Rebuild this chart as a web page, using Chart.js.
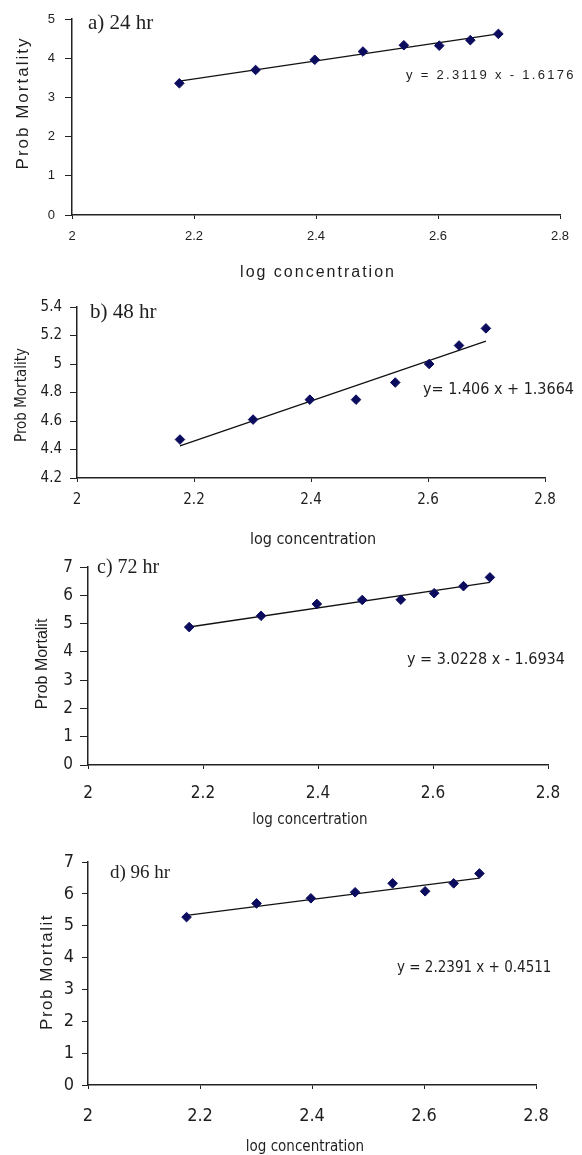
<!DOCTYPE html>
<html>
<head>
<meta charset="utf-8">
<script src="https://cdn.jsdelivr.net/npm/chart.js@4/dist/chart.umd.min.js"></script>
<style>
  body { margin: 0; background: #fff; width: 582px; height: 1155px; position: relative; overflow: hidden; }
  canvas { position: absolute; left: 0; }
</style>
</head>
<body>
<canvas id="pa" width="582" height="290" style="top:0px"></canvas>
<canvas id="pb" width="582" height="260" style="top:290px"></canvas>
<canvas id="pc" width="582" height="290" style="top:550px"></canvas>
<canvas id="pd" width="582" height="315" style="top:840px"></canvas>
<script>
// log concentration of the 8 test doses
const logConc = [2.176, 2.301, 2.398, 2.477, 2.544, 2.602, 2.653, 2.699];

// probit mortality
const prob24 = [3.36, 3.70, 3.96, 4.17, 4.33, 4.32, 4.46, 4.62];
const prob48 = [4.47, 4.61, 4.75, 4.75, 4.87, 5.00, 5.13, 5.25];
const prob72 = [4.88, 5.28, 5.70, 5.84, 5.85, 6.08, 6.33, 6.64];
const prob96 = [5.27, 5.70, 5.86, 6.05, 6.33, 6.08, 6.33, 6.64];

// trend line end points (from the printed equations)
const fitX = [2.176, 2.699];
const fit24 = [3.413, 4.622];
const fit48 = [4.426, 5.161];
const fit72 = [4.884, 6.465];
const fit96 = [5.323, 6.494];

const xTicks = [2, 2.2, 2.4, 2.6, 2.8];
const yTicks24 = [0, 1, 2, 3, 4, 5];
const yTicks48 = [4.2, 4.4, 4.6, 4.8, 5, 5.2, 5.4];
const yTicks72 = [0, 1, 2, 3, 4, 5, 6, 7];
const yTicks96 = [0, 1, 2, 3, 4, 5, 6, 7];

const SANS = '"Liberation Sans", Arial, sans-serif';
const NARROW = '"Liberation Sans Narrow", "DejaVu Sans Condensed", "Liberation Sans", sans-serif';
const SERIF = '"Liberation Serif", "Times New Roman", serif';

function pairs(xs, ys) {
  return xs.map((x, i) => ({ x: x, y: ys[i] }));
}

const textPlugin = {
  id: 'texts',
  afterDraw(chart, args, opts) {
    const ctx = chart.ctx;
    (opts.items || []).forEach(t => {
      ctx.save();
      ctx.font = t.font;
      ctx.fillStyle = t.color || '#1e1e1e';
      ctx.letterSpacing = (t.ls || 0) + 'px';
      ctx.textAlign = t.align || 'left';
      ctx.textBaseline = 'middle';
      ctx.translate(t.x, t.y);
      if (t.rot) ctx.rotate(-Math.PI / 2);
      ctx.fillText(t.text, 0, 0);
      ctx.restore();
    });
  }
};

const panels = [
  {
    id: 'pa', top: 0, h: 290, area: [72, 19, 560, 215],
    points: pairs(logConc, prob24), fit: pairs(fitX, fit24),
    yMin: 0, yMax: 5, yTicks: yTicks24,
    tickFont: { family: SANS, size: 13 }, xPad: 10, yPad: 10, yTickLen: 7,
    texts: [
      { text: 'a) 24 hr', x: 88, y: 23, font: '21px ' + SERIF },
      { text: 'y = 2.3119 x - 1.6176', x: 406, y: 75, font: '13px ' + SANS, ls: 2.3 },
      { text: 'log concentration', x: 318, y: 273, font: '16px ' + SANS, ls: 2, align: 'center' },
      { text: 'Prob Mortality', x: 23, y: 103, font: '17px ' + SANS, ls: 2, align: 'center', rot: true }
    ]
  },
  {
    id: 'pb', top: 290, h: 260, area: [77, 305, 545, 478],
    points: pairs(logConc, prob48), fit: pairs(fitX, fit48),
    yMin: 4.2, yMax: 5.4, yTicks: yTicks48,
    tickFont: { family: NARROW, size: 15 }, xPad: 9, yPad: 8, yTickLen: 7,
    texts: [
      { text: 'b) 48 hr', x: 90, y: 22, font: '21px ' + SERIF },
      { text: 'y= 1.406 x + 1.3664', x: 423, y: 100, font: '16px ' + NARROW },
      { text: 'log concentration', x: 313, y: 250, font: '16px ' + NARROW, align: 'center' },
      { text: 'Prob Mortality', x: 22, y: 105, font: '15px ' + NARROW, align: 'center', rot: true }
    ]
  },
  {
    id: 'pc', top: 550, h: 290, area: [88, 565, 548, 765],
    points: pairs(logConc, prob72), fit: pairs(fitX, fit72),
    yMin: 0, yMax: 7, yTicks: yTicks72,
    tickFont: { family: NARROW, size: 17 }, xPad: 14, yPad: 7, yTickLen: 8,
    texts: [
      { text: 'c) 72 hr', x: 97, y: 18, font: '20px ' + SERIF },
      { text: 'y = 3.0228 x - 1.6934', x: 407, y: 110, font: '16px ' + NARROW },
      { text: 'log concertration', x: 310, y: 270, font: '15px ' + NARROW, align: 'center' },
      { text: 'Prob Mortalit', x: 43, y: 114, font: '16px ' + SANS, align: 'center', rot: true }
    ]
  },
  {
    id: 'pd', top: 840, h: 315, area: [88, 862, 536, 1085],
    points: pairs(logConc, prob96), fit: pairs(fitX, fit96),
    yMin: 0, yMax: 7, yTicks: yTicks96,
    tickFont: { family: NARROW, size: 18 }, xPad: 17, yPad: 8, yTickLen: 6,
    texts: [
      { text: 'd) 96 hr', x: 110, y: 33, font: '19px ' + SERIF },
      { text: 'y = 2.2391 x + 0.4511', x: 397, y: 128, font: '15px ' + NARROW },
      { text: 'log concentration', x: 305, y: 307, font: '15px ' + NARROW, align: 'center' },
      { text: 'Prob Mortalit', x: 47, y: 132, font: '17px ' + SANS, ls: 1.5, align: 'center', rot: true }
    ]
  }
];

function makeChart(p) {
  const [l, t, r, b] = p.area;
  new Chart(document.getElementById(p.id), {
    type: 'scatter',
    data: {
      datasets: [
        {
          data: p.fit, showLine: true, borderColor: '#111', borderWidth: 1.3,
          pointRadius: 0, order: 2
        },
        {
          data: p.points, pointStyle: 'rectRot', pointRadius: 4.8,
          backgroundColor: '#0c0c5e', borderColor: '#0c0c5e', borderWidth: 1, order: 1
        }
      ]
    },
    options: {
      responsive: false,
      animation: false,
      devicePixelRatio: 1,
      layout: { autoPadding: false, padding: { left: 0, top: t - p.top, right: 582 - r, bottom: 0 } },
      plugins: {
        legend: { display: false },
        tooltip: { enabled: false },
        texts: { items: p.texts }
      },
      scales: {
        x: {
          type: 'linear', min: 2, max: 2.8,
          afterBuildTicks: s => { s.ticks = xTicks.map(v => ({ value: v })); },
          afterFit: s => { s.height = p.top + p.h - b; },
          grid: { drawOnChartArea: false, tickLength: 4, color: '#222' },
          border: { color: '#222', width: 1.5 },
          ticks: { font: p.tickFont, color: '#1e1e1e', padding: p.xPad, maxRotation: 0, autoSkip: false,
                   callback: v => String(v) }
        },
        y: {
          min: p.yMin, max: p.yMax,
          afterBuildTicks: s => { s.ticks = p.yTicks.map(v => ({ value: v })); },
          afterFit: s => { s.width = l; },
          grid: { drawOnChartArea: false, tickLength: p.yTickLen, color: '#222' },
          border: { color: '#222', width: 1.5 },
          ticks: { font: p.tickFont, color: '#1e1e1e', padding: p.yPad, autoSkip: false,
                   callback: v => String(v) }
        }
      }
    },
    plugins: [textPlugin]
  });
}

panels.forEach(makeChart);
</script>
</body>
</html>
